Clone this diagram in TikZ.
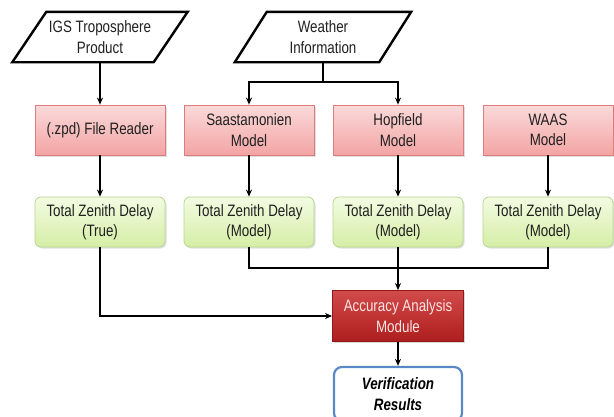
\documentclass[tikz,border=0pt]{standalone}
\usepackage{fontspec}
\setmainfont{Liberation Sans}[FakeStretch=0.81]
\usetikzlibrary{arrows.meta,shadows,calc}
\definecolor{redtop}{HTML}{FADADA}
\definecolor{redbot}{HTML}{F3A4A4}
\definecolor{redline}{HTML}{DE7C7C}
\definecolor{greentop}{HTML}{F3FBE2}
\definecolor{greenbot}{HTML}{D5EEA6}
\definecolor{greenline}{HTML}{B5D78E}
\definecolor{acctop}{HTML}{D24A4A}
\definecolor{accbot}{HTML}{AE1E1E}
\definecolor{accline}{HTML}{8E1A1A}
\definecolor{acctext}{HTML}{FBE4E4}
\definecolor{verline}{HTML}{5A88C4}
\definecolor{txt}{HTML}{202020}
\tikzset{
  every node/.style={font=\fontsize{16.5}{20.5}\selectfont, text=txt, align=center},
  inputbox/.style={minimum width=141pt, minimum height=50pt, inner sep=0pt},
  slanted/.style={draw=black, line width=2.4pt, line join=miter, fill=white},
  modelbox/.style={draw=redline, line width=0.8pt, top color=redtop, bottom color=redbot,
    minimum width=130pt, minimum height=50pt, inner sep=1pt,
    drop shadow={shadow xshift=1.5pt, shadow yshift=-1.5pt, opacity=0.25}},
  delaybox/.style={draw=greenline, line width=0.8pt, top color=greentop, bottom color=greenbot,
    rounded corners=6pt, minimum width=130pt, minimum height=50pt, inner sep=1pt,
    drop shadow={shadow xshift=1.5pt, shadow yshift=-1.5pt, opacity=0.25}},
  accbox/.style={draw=accline, line width=0.8pt, top color=acctop, bottom color=accbot,
    text=acctext, minimum width=131pt, minimum height=51pt, inner sep=1pt,
    drop shadow={shadow xshift=1.5pt, shadow yshift=-1.5pt, opacity=0.3}},
  resultbox/.style={draw=verline, line width=2.2pt, fill=white, rounded corners=8pt,
    minimum width=128pt, minimum height=54pt, inner sep=1pt,
    font=\fontsize{16.5}{20.5}\selectfont\bfseries\itshape, text=black},
  link/.style={line width=1.5pt, draw=black},
  arrow/.style={link, -{Stealth[length=7pt,width=6pt]}}
}
\begin{document}
\begin{tikzpicture}[x=1pt,y=-1pt]
\useasboundingbox (0,0) rectangle (614,416);

% input parallelograms
\node[inputbox] (igs) at (100,37) {};
\draw[slanted] ($(igs.north west)+(17,0)$) -- ($(igs.north east)+(17,0)$)
  -- ($(igs.south east)+(-17,0)$) -- ($(igs.south west)+(-17,0)$) -- cycle;
\node at (igs) {IGS Troposphere\\Product};

\node[inputbox, minimum width=144pt] (wi) at (323,37) {};
\draw[slanted] ($(wi.north west)+(16,0)$) -- ($(wi.north east)+(16,0)$)
  -- ($(wi.south east)+(-16,0)$) -- ($(wi.south west)+(-16,0)$) -- cycle;
\node at (wi) {Weather\\Information};

% model boxes
\node[modelbox] (rdr) at (100,130) {(.zpd) File Reader};
\node[modelbox] (saa) at (249,130) {Saastamonien\\Model};
\node[modelbox] (hop) at (398,130) {Hopfield\\Model};
\node[modelbox] (waa) at (548,130) {WAAS\\Model};

% zenith delay boxes
\node[delaybox] (z1) at (100,222) {Total Zenith Delay\\(True)};
\node[delaybox] (z2) at (249,222) {Total Zenith Delay\\(Model)};
\node[delaybox] (z3) at (398,222) {Total Zenith Delay\\(Model)};
\node[delaybox] (z4) at (548,222) {Total Zenith Delay\\(Model)};

% analysis and results
\node[accbox] (acc) at (398,316) {Accuracy Analysis\\Module};
\node[resultbox] (ver) at (398,394) {Verification\\Results};

% connectors
\draw[arrow] (igs.south) -- (rdr.north);
\coordinate (wj) at (wi.south |- 0,82);
\draw[link] (wi.south) -- (wj);
\draw[arrow] (wj) -| (saa.north);
\draw[arrow] (wj) -| (hop.north);
\draw[arrow] (rdr.south) -- (z1.north);
\draw[arrow] (saa.south) -- (z2.north);
\draw[arrow] (hop.south) -- (z3.north);
\draw[arrow] (waa.south) -- (z4.north);

\coordinate (bus) at (z3.south |- 0,268);
\draw[link] (z2.south) |- (bus);
\draw[link] (z4.south) |- (bus);
\draw[arrow] (z3.south) -- (acc.north);
\draw[arrow] (z1.south) |- (acc.west);
\draw[arrow] (acc.south) -- (ver.north);
\end{tikzpicture}
\end{document}
